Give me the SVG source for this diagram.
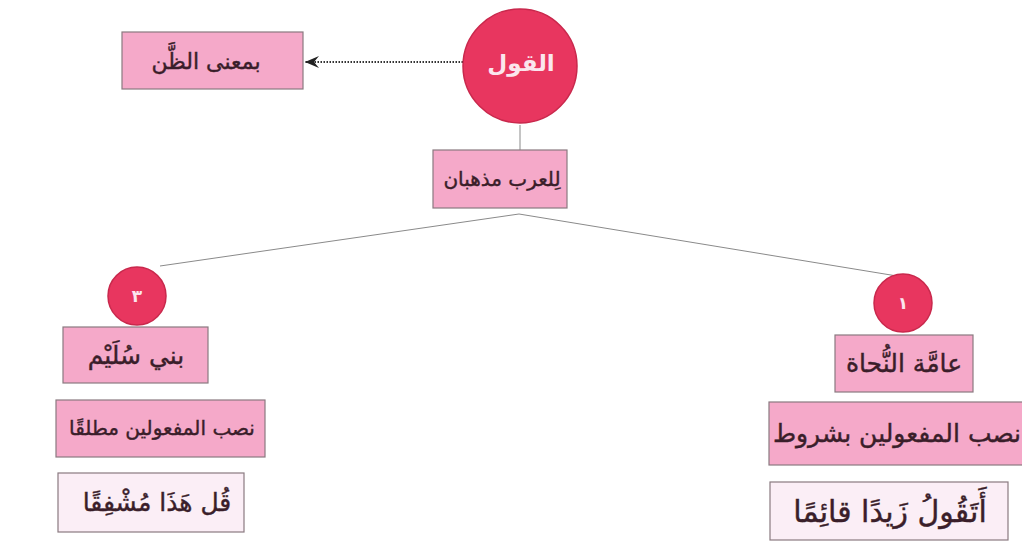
<svg xmlns="http://www.w3.org/2000/svg" width="1022" height="543" viewBox="0 0 1022 543">
<defs>
<style>
.box{fill:#f5a9c9;stroke:#8a7a80;stroke-width:1.2}
.lbox{fill:#fbeef6;stroke:#8a7a80;stroke-width:1.2}
.circ{fill:#e8365f;stroke:#c9284c;stroke-width:1.5}
.t{font-family:"DejaVu Sans",sans-serif;fill:#3a1e2a;stroke:#3a1e2a;stroke-width:0.4;text-anchor:middle;dominant-baseline:central;direction:rtl}
.ct{font-family:"DejaVu Sans",sans-serif;font-weight:bold;fill:#fbe6ee;text-anchor:middle;dominant-baseline:central;direction:rtl}
.ln{stroke:#8a8a8a;stroke-width:1;fill:none}
</style>
<marker id="ah" viewBox="0 0 14 12" refX="14" refY="6" markerWidth="14" markerHeight="12" markerUnits="userSpaceOnUse" orient="auto">
<path d="M0,0 L14,6 L0,12 L5,6 Z" fill="#222"/>
</marker>
</defs>
<g id="connectors">
<line x1="463" y1="62" x2="305" y2="62" stroke="#333" stroke-width="2" stroke-dasharray="1.5 1.5" marker-end="url(#ah)"/>
<line class="ln" x1="520" y1="125" x2="520" y2="150"/>
<line class="ln" x1="519" y1="214" x2="160" y2="266"/>
<line class="ln" x1="519" y1="214" x2="897" y2="276"/>
</g>
<g id="n-qawl">
<circle class="circ" cx="520" cy="66" r="57"/>
<text class="ct" x="521" y="63" style="font-size:23px">القول</text>
</g>
<g id="n-zann">
<rect class="box" x="122" y="32" width="181" height="57"/>
<text class="t" x="206" y="61" style="font-size:22px">بمعنى الظَّن</text>
</g>
<g id="n-madhhaban">
<rect class="box" x="433" y="150" width="134" height="58"/>
<text class="t" x="502" y="179" style="font-size:20px">لِلعرب مذهبان</text>
</g>
<g id="n-3">
<circle class="circ" cx="137" cy="296" r="29"/>
<text class="ct" x="137" y="296" style="font-size:17px">٣</text>
</g>
<g id="n-sulaym">
<rect class="box" x="63" y="327" width="145" height="56"/>
<text class="t" x="136" y="355" style="font-size:25px">بني سُلَيْم</text>
</g>
<g id="n-mutlaqan">
<rect class="box" x="56" y="400" width="209" height="57"/>
<text class="t" x="162" y="428" style="font-size:20px">نصب المفعولين مطلقًا</text>
</g>
<g id="n-qul">
<rect class="lbox" x="58" y="473" width="186" height="59"/>
<text class="t" x="157" y="502" style="font-size:25px">قُل هَذَا مُشْفِقًا</text>
</g>
<g id="n-1">
<circle class="circ" cx="903" cy="303" r="29"/>
<text class="ct" x="903" y="303" style="font-size:17px">١</text>
</g>
<g id="n-nuhat">
<rect class="box" x="835" y="335" width="138" height="57"/>
<text class="t" x="904" y="363" style="font-size:25px">عامَّة النُّحاة</text>
</g>
<g id="n-shurut">
<rect class="box" x="769" y="402" width="260" height="63"/>
<text class="t" x="897" y="433" style="font-size:25px">نصب المفعولين بشروط</text>
</g>
<g id="n-ataqulu">
<rect class="lbox" x="770" y="482" width="238" height="58"/>
<text class="t" x="890" y="511" style="font-size:30px">أَتَقُولُ زَيدًا قائِمًا</text>
</g>
</svg>
